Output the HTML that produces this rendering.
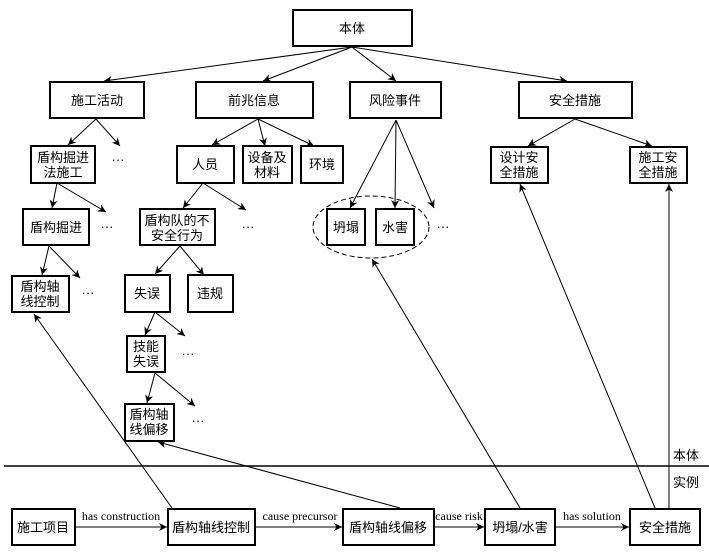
<!DOCTYPE html>
<html><head><meta charset="utf-8"><style>
html,body{margin:0;padding:0;background:#fff;}
svg{display:block;font-family:"Liberation Serif","Noto Serif CJK SC","Noto Sans CJK SC",serif;}
.b{fill:#fff;stroke:#000;stroke-width:2;}
.l{stroke:#000;stroke-width:1;fill:none;}
.t{font-size:13px;text-anchor:middle;font-family:"Liberation Sans","Noto Sans CJK SC",sans-serif;}
.e{font-size:12px;text-anchor:middle;}
</style></head><body>
<svg width="709" height="556" viewBox="0 0 709 556" xmlns="http://www.w3.org/2000/svg">
<defs><marker id="a" viewBox="0 0 10 10" refX="10" refY="5" markerWidth="8" markerHeight="8" orient="auto" markerUnits="userSpaceOnUse"><path d="M0,0 L10,5 L0,10 L3,5z" fill="#000"/></marker></defs>
<g class="l" marker-end="url(#a)">
<line x1="352" y1="47" x2="104" y2="81"/>
<line x1="352" y1="47" x2="263" y2="81"/>
<line x1="352" y1="47" x2="396" y2="81"/>
<line x1="352" y1="47" x2="567" y2="81"/>
<line x1="96" y1="119" x2="68" y2="145"/>
<line x1="96" y1="119" x2="120" y2="146"/>
<line x1="258" y1="119" x2="212" y2="145"/>
<line x1="258" y1="119" x2="265" y2="146"/>
<line x1="258" y1="119" x2="314" y2="146"/>
<line x1="396" y1="120" x2="350" y2="208"/>
<line x1="396" y1="120" x2="395" y2="208"/>
<line x1="396" y1="120" x2="434" y2="208"/>
<line x1="575" y1="119" x2="528" y2="146"/>
<line x1="575" y1="119" x2="652" y2="146"/>
<line x1="57" y1="183" x2="52" y2="208"/>
<line x1="57" y1="183" x2="106" y2="212"/>
<line x1="203" y1="183" x2="183" y2="208"/>
<line x1="203" y1="183" x2="246" y2="210"/>
<line x1="49" y1="246" x2="42" y2="275"/>
<line x1="49" y1="246" x2="80" y2="278"/>
<line x1="180" y1="246" x2="155" y2="274"/>
<line x1="180" y1="246" x2="204" y2="275"/>
<line x1="155" y1="312" x2="145" y2="335"/>
<line x1="155" y1="312" x2="185" y2="336"/>
<line x1="155" y1="373" x2="147" y2="403"/>
<line x1="155" y1="373" x2="195" y2="406"/>
</g>
<ellipse cx="371" cy="227" rx="58" ry="31" fill="none" stroke="#000" stroke-width="1" stroke-dasharray="5,3"/>
<g class="b">
<rect x="293" y="10" width="119" height="36"/>
<rect x="50" y="82" width="94" height="36"/>
<rect x="196" y="82" width="117" height="36"/>
<rect x="350" y="82" width="91" height="36"/>
<rect x="519" y="82" width="113" height="36"/>
<rect x="31" y="146" width="64" height="37"/>
<rect x="177" y="146" width="57" height="37"/>
<rect x="243" y="146" width="49" height="37"/>
<rect x="301" y="146" width="42" height="37"/>
<rect x="491" y="147" width="57" height="36"/>
<rect x="630" y="147" width="57" height="36"/>
<rect x="23" y="209" width="66" height="36"/>
<rect x="140" y="209" width="75" height="36"/>
<rect x="327" y="209" width="38" height="36"/>
<rect x="376" y="209" width="38" height="36"/>
<rect x="12" y="276" width="57" height="36"/>
<rect x="125" y="275" width="45" height="37"/>
<rect x="188" y="275" width="45" height="37"/>
<rect x="127" y="336" width="38" height="36"/>
<rect x="125" y="404" width="49" height="37"/>
</g>
<g class="t">
<text x="352" y="33">本体</text>
<text x="97" y="105">施工活动</text>
<text x="254" y="105">前兆信息</text>
<text x="395" y="105">风险事件</text>
<text x="575" y="105">安全措施</text>
<text x="63" y="162">盾构掘进</text><text x="63" y="177">法施工</text>
<text x="205" y="169">人员</text>
<text x="267" y="162">设备及</text><text x="267" y="177">材料</text>
<text x="322" y="169">环境</text>
<text x="519" y="162">设计安</text><text x="519" y="177">全措施</text>
<text x="658" y="162">施工安</text><text x="658" y="177">全措施</text>
<text x="56" y="232">盾构掘进</text>
<text x="177" y="225">盾构队的不</text><text x="177" y="240">安全行为</text>
<text x="346" y="232">坍塌</text>
<text x="395" y="232">水害</text>
<text x="40" y="291">盾构轴</text><text x="40" y="306">线控制</text>
<text x="147" y="298">失误</text>
<text x="210" y="298">违规</text>
<text x="146" y="351">技能</text><text x="146" y="366">失误</text>
<text x="149" y="419">盾构轴</text><text x="149" y="434">线偏移</text>
<text x="118" y="164">···</text>
<text x="107" y="231">···</text>
<text x="248" y="231">···</text>
<text x="443" y="231">···</text>
<text x="88" y="297">···</text>
<text x="188" y="358">···</text>
<text x="198" y="425">···</text>
<text x="686" y="460">本体</text>
<text x="686" y="487">实例</text>
</g>
<line x1="4" y1="466" x2="709" y2="466" stroke="#000" stroke-width="1.5"/>
<g class="l" marker-end="url(#a)">
<line x1="75" y1="527" x2="167" y2="527"/>
<line x1="256" y1="527" x2="342" y2="527"/>
<line x1="434" y1="527" x2="484" y2="527"/>
<line x1="555" y1="527" x2="629" y2="527"/>
<line x1="172" y1="508" x2="34" y2="314"/>
<line x1="400" y1="508" x2="158" y2="442"/>
<line x1="520" y1="508" x2="372" y2="259"/>
<line x1="655" y1="508" x2="520" y2="184"/>
<line x1="669" y1="508" x2="669" y2="184"/>
</g>
<g class="b">
<rect x="12" y="509" width="63" height="36"/>
<rect x="168" y="509" width="87" height="36"/>
<rect x="343" y="509" width="91" height="36"/>
<rect x="485" y="509" width="70" height="36"/>
<rect x="630" y="509" width="70" height="36"/>
</g>
<g class="t">
<text x="43" y="532">施工项目</text>
<text x="211" y="532">盾构轴线控制</text>
<text x="388" y="532">盾构轴线偏移</text>
<text x="520" y="532">坍塌/水害</text>
<text x="665" y="532">安全措施</text>
</g>
<g class="e">
<text x="121" y="520">has construction</text>
<text x="300" y="520">cause precursor</text>
<text x="459" y="520">cause risk</text>
<text x="592" y="520">has solution</text>
</g>
</svg>
</body></html>
